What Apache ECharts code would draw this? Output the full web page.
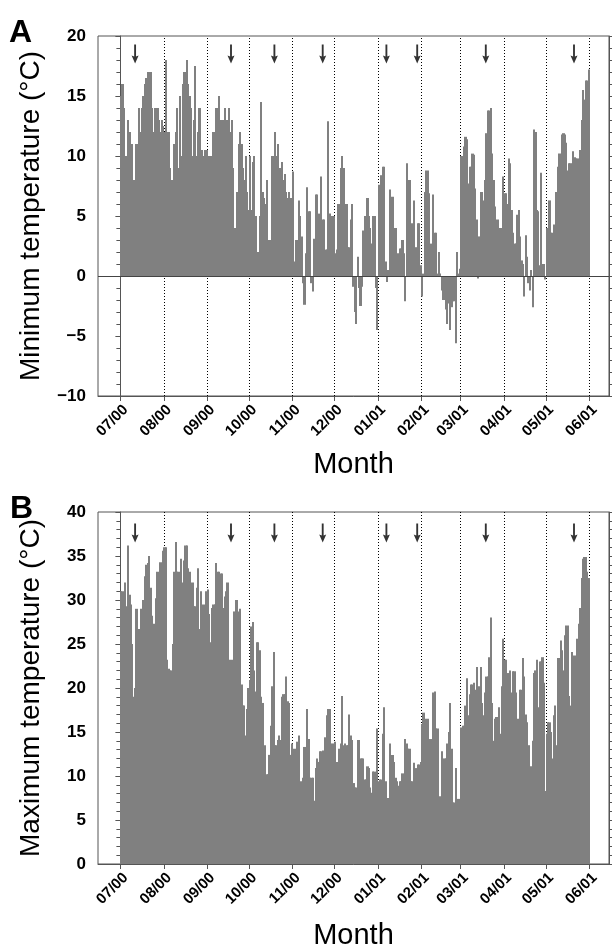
<!DOCTYPE html>
<html>
<head>
<meta charset="utf-8">
<script src="https://cdn.jsdelivr.net/npm/echarts@6/dist/echarts.min.js"></script>
<style>
html,body{margin:0;padding:0;background:#fff;}
#chart{width:612px;height:951px;}
</style>
</head>
<body>
<div id="chart"></div>
<script>
// Days counted from 1 July 2000
const monthDays = [0, 31, 62, 92, 123, 153, 184, 215, 243, 274, 304, 335];
const monthLabels = ['07/00','08/00','09/00','10/00','11/00','12/00','01/01','02/01','03/01','04/01','05/01','06/01'];
const arrowDays = [10.5, 79, 110, 144.5, 190, 212, 261, 324];

// Daily minimum temperature (°C), 1 Jul 2000 – 31 May 2001
const minTemp = [
  // Jul
  15,16,14,10,10,13,12,8,11,8,6,11,9,14,12,14,15,16,16.5,17,17,17,14,12,14,12,14,13,12,13,12.5,
  // Aug
  12,18,12,12,9,8,7.5,11,12,14,9,15,10,16,17,17,18,16,15,14,10,13,17.5,10,12,14,10.5,10.5,10,10.5,10.5,
  // Sep
  10,10,10,6,12,11,14,14,15,13,13,13,14,13,13,14,12,13,9,4,4,7,11,12,11,9,8,10,7,5.5,
  // Oct
  10,5.5,9.5,10,5,2,2,5,14.5,7,6.5,6,8,3,3,3,10,10,12,10,11,9,9,9.5,8,8.5,7,6.5,7,6.5,1.5,
  // Nov
  8.7,1.2,3,3,6.3,5,3.3,-0.6,-2.4,1.9,7.4,5.4,5.4,-0.6,-1.3,3.1,6.8,6.8,5.2,2.2,8.3,4.7,4.7,2.2,2.2,12.9,5.2,2.4,5,5,
  // Dec
  1.9,2.2,6,6,9,10,9,5,6,2.4,2.4,4.7,6,-0.9,-3,-4,1.6,-1,-2.5,-0.9,3.8,5,5,6.5,5,4,2.7,5,5,-1,-4.5,
  // Jan
  7.6,6.3,8.4,9.1,9.1,1.2,-0.5,0.5,7.2,6.6,6.6,1.6,4,0.2,1.9,2.3,2.3,3,1.9,-2.1,9.4,8,8,3.8,4.4,6.3,2.3,2.4,4.4,4.4,0.9,
  // Feb
  -1.7,0.2,7,8.8,8.8,6.9,2.7,0.4,6.8,3.6,3.6,0.2,2,0.2,-1.2,-2,-2,-2.8,-4,-2.3,-4.5,-2.6,-2.1,-2.1,-5.6,2,0.2,0.6,
  // Mar
  10,10,10.8,11.6,11.4,7.7,9.1,9.1,10.2,10.1,7.3,4.7,-0.2,3.3,7,7,6.3,8,11.9,13.8,13.8,14,10.2,8,5.8,4.7,4.7,2.2,4,3.8,8.3,
  // Apr
  6.9,6.9,6,9.8,9.4,5.5,3.6,2.7,2.7,5.1,5.5,3.3,1.3,1,-1.7,3.4,1.6,-0.6,-1.2,0.5,-2.6,12.2,12,5.5,5.4,0.9,8.6,1,1,-0.3,
  // May
  4,3.6,6.3,3.6,3.6,4.3,3.8,7,9.1,10.2,10.2,11.8,11.9,11.8,11.1,8.8,9.4,9.4,6.9,10.4,9.9,9.8,9.8,9,10.5,13,15.5,14.7,16.3,16.3,17.2
];

// Daily maximum temperature (°C)
const maxTemp = [
  // Jul
  31,31,27.3,32,29.3,36.2,30.6,29.5,25,19,20,29,26.7,26.7,29,20,30,32.7,34,34.2,35,31.4,28.2,27.3,27.3,30.2,33.2,30.2,34.3,34.3,35.6,
  // Aug
  36,36,23.2,22.2,22,22,25,33.2,36.6,33.2,33.2,27.6,34.7,32,34.5,36.2,36.2,33.6,33.2,31,32,29.3,29.3,31.4,33.6,26.7,31,29.5,29.5,28,31,
  // Sep
  31.2,28.4,25.2,29.1,29.5,29.5,34.2,33.2,33.2,33,33,29.1,30.4,31,32,18,23.2,23.2,14.2,28.7,30,30,28.7,29,20.4,18,18,14.6,17.6,20,
  // Oct
  20.9,27,27.5,22,19.6,25.2,25.2,24.3,19,18.3,13.1,13.5,10.2,10.2,12.4,15.7,20.2,24.1,13.5,13.5,14.1,14.6,14.1,19,19.3,19.3,21.3,18.5,18.3,12.4,13.7,
  // Nov
  13.1,13.1,11.3,13.9,14.6,9.4,9.4,9.8,13.3,12.8,17.6,14.2,9.8,9.8,9.8,7.2,10.9,12,11.6,12.8,12.8,12.9,8.1,14.4,16.9,17.6,17.6,12.4,13.7,12,
  // Dec
  13.9,11.6,11.6,13.1,13.7,19.1,13.5,13.7,13.5,13.5,17,14.6,14.1,9.2,8.7,8.7,14.1,14.1,12,12,12,9.6,9.6,11.1,10.9,8.7,8.1,10.5,10.5,8.7,15.4,
  // Jan
  9.4,9.6,9.6,14.8,17.8,9.4,5.7,7.5,13.7,12.4,12.4,11.6,9.8,9.4,8.9,9.4,9.4,10.3,9.8,14.2,13.7,13.1,13.1,9.4,9.4,11.5,7.7,10.9,11.3,11.3,11.6,
  // Feb
  15.9,17.2,12.4,16.5,16.5,13.1,14.2,9.8,19.5,19.6,15.4,15.4,6.4,7.7,12.8,4.6,12,12,13.7,15,18.3,13.1,7,7,10.9,7.4,7.4,7.2,
  // Mar
  15.5,15.7,15.7,18,21.1,16.9,19.3,20.4,20.4,20.6,19.8,22.4,17.6,20.2,22.4,18.3,16.9,19.5,21.3,21.3,23.5,28,18.3,14,16.5,16.7,16.7,17.8,14.8,20.2,25.6,
  // Apr
  23.2,23.2,21.7,21.3,22,19.5,21.9,21.9,19.5,16.5,16.5,19.8,19.8,23.4,21.3,17,16.1,13.5,11,11.1,14,21.7,22,23.2,17.8,23,23,23.5,20.6,8.3,
  // May
  14.8,16.1,16.1,15,12,16.9,18,13.5,23.4,23.4,25.4,24.3,22,26,27.1,27.1,19.1,18,24.1,23.7,23.7,23.5,25.6,27.3,29.1,32.5,34.7,34.9,34.9,33.2,32.5
];

const FONT = '"Liberation Sans", Arial, Helvetica, sans-serif';
const AXIS_COLOR = '#555';
const BAR_COLOR = '#808080';
const ARROW_PATH = 'path://M2.2,0 L3.8,0 L3.8,12 L6,11 L3,19 L0,11 L2.2,12 Z';

const chart = echarts.init(document.getElementById('chart'), null, {renderer: 'canvas'});

function xAxisCfg(gi, gap) {
  return {
    type: 'value', gridIndex: gi, min: -16, max: 349,
    axisLine: {show: true, onZero: false, lineStyle: {color: AXIS_COLOR, width: 1}},
    splitLine: {show: false},
    axisTick: {show: true, customValues: monthDays, length: 5, lineStyle: {color: AXIS_COLOR}},
    axisLabel: {
      show: true, customValues: monthDays, rotate: 45, margin: 6, verticalAlign: 'top',
      fontFamily: FONT, fontWeight: 'bold', fontSize: 15, color: '#000',
      formatter: function (v) { const i = monthDays.indexOf(v); return i >= 0 ? monthLabels[i] : ''; }
    },
    name: 'Month', nameLocation: 'middle', nameGap: gap,
    nameTextStyle: {fontFamily: FONT, fontSize: 29, color: '#000'}
  };
}
function yAxisCfg(gi, min, max, name) {
  return {
    type: 'value', gridIndex: gi, min: min, max: max, interval: 5, position: 'left',
    axisLine: {show: true, lineStyle: {color: AXIS_COLOR, width: 1}},
    splitLine: {show: false},
    axisTick: {show: true, length: 5, lineStyle: {color: AXIS_COLOR}},
    minorTick: {show: true, splitNumber: 5, length: 4, lineStyle: {color: AXIS_COLOR}},
    axisLabel: {
      fontFamily: FONT, fontWeight: 'bold', fontSize: 17, color: '#000', margin: 12,
      formatter: function (v) { return String(v).replace('-', '\u2212'); }
    },
    name: name, nameLocation: 'middle', nameGap: 53,
    nameTextStyle: {fontFamily: FONT, fontSize: 28, color: '#000'}
  };
}
function yAxisRight(gi, min, max) {
  return {
    type: 'value', gridIndex: gi, min: min, max: max, interval: 5, position: 'right',
    axisLine: {show: true, lineStyle: {color: AXIS_COLOR, width: 1}},
    splitLine: {show: false},
    axisTick: {show: true, length: 3, lineStyle: {color: AXIS_COLOR}},
    minorTick: {show: true, splitNumber: 5, length: 3, lineStyle: {color: AXIS_COLOR}},
    axisLabel: {show: false}
  };
}
function monthLineSeries(xi, yi) {
  return {
    type: 'line', xAxisIndex: xi, yAxisIndex: yi, data: [], z: 0, silent: true,
    markLine: {
      silent: true, z: 0, symbol: ['none', 'none'],
      label: {show: false},
      lineStyle: {type: [1, 2], color: '#000', width: 1},
      data: monthDays.map(function (d) { return {xAxis: d}; })
    }
  };
}
function zeroLineSeries(xi, yi) {
  return {
    type: 'line', xAxisIndex: xi, yAxisIndex: yi, data: [], z: 5, silent: true,
    markLine: {
      silent: true, z: 5, symbol: ['none', 'none'], label: {show: false},
      lineStyle: {type: 'solid', color: '#444', width: 1},
      data: [{yAxis: 0}]
    }
  };
}
function renderDayBar(params, api) {
  const d = api.value(0), v = api.value(1);
  const p0 = api.coord([d, 0]);
  const p1 = api.coord([d + 1, v]);
  const left = Math.floor(p0[0]);
  const right = Math.ceil(p1[0]);
  return {
    type: 'rect',
    shape: {x: left, y: Math.min(p0[1], p1[1]), width: right - left, height: Math.abs(p1[1] - p0[1])},
    style: {fill: BAR_COLOR}
  };
}
function barSeries(xi, yi, values) {
  return {
    type: 'custom', xAxisIndex: xi, yAxisIndex: yi,
    data: values.map(function (v, i) { return [i, v]; }),
    encode: {x: 0, y: 1},
    renderItem: renderDayBar, z: 2, silent: true, animation: false
  };
}
function arrowSeries(xi, yi, yVal) {
  return {
    type: 'scatter', xAxisIndex: xi, yAxisIndex: yi,
    data: arrowDays.map(function (d) { return [d, yVal]; }),
    symbol: ARROW_PATH, symbolSize: [7, 19], itemStyle: {color: '#000'},
    z: 3, silent: true, animation: false
  };
}

chart.setOption({
  animation: false,
  backgroundColor: '#fff',
  textStyle: {fontFamily: FONT},
  grid: [
    {left: 98, top: 36, width: 511, height: 360, show: true, borderColor: AXIS_COLOR, borderWidth: 1, backgroundColor: 'transparent'},
    {left: 98, top: 512, width: 511, height: 359, show: true, borderColor: AXIS_COLOR, borderWidth: 1, backgroundColor: 'transparent'}
  ],
  xAxis: [xAxisCfg(0, 54), xAxisCfg(1, 57)],
  yAxis: [
    yAxisCfg(0, -10, 20, 'Minimum temperature (°C)'),
    yAxisRight(0, -10, 20),
    yAxisCfg(1, 0, 40, 'Maximum temperature (°C)'),
    yAxisRight(1, 0, 40)
  ],
  graphic: [
    {type: 'text', left: 9, top: 17, style: {text: 'A', font: 'bold 32px ' + FONT, fill: '#000'}},
    {type: 'text', left: 10, top: 493, style: {text: 'B', font: 'bold 32px ' + FONT, fill: '#000'}}
  ],
  series: [
    monthLineSeries(0, 0),
    barSeries(0, 0, minTemp),
    zeroLineSeries(0, 0),
    arrowSeries(0, 0, 18.5),
    monthLineSeries(1, 2),
    barSeries(1, 2, maxTemp),
    arrowSeries(1, 2, 37.6)
  ]
});
</script>
</body>
</html>
